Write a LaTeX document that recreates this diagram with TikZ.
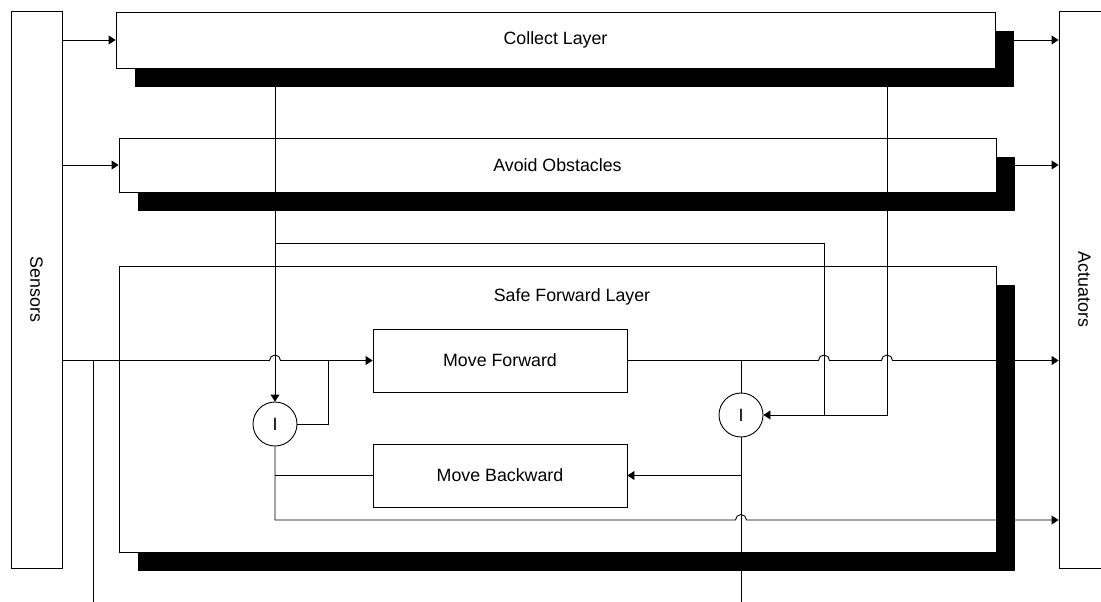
\documentclass[tikz,border=0pt]{standalone}
\usepackage{fontspec}
\setmainfont{Liberation Sans}
\usetikzlibrary{arrows.meta,shadows,calc}
\begin{document}
\begin{tikzpicture}[x=1pt,y=-1pt,
  lw/.style={line width=0.9pt},
  every node/.style={font=\fontsize{17.8}{21}\selectfont},
  blk/.style={draw, fill=white, lw, inner sep=0pt, rectangle},
  layer/.style={blk, general shadow={fill=black, shadow xshift=19pt, shadow yshift=-19pt}},
  gate/.style={draw, fill=white, lw, circle, minimum size=44pt, inner sep=0pt},
  wire/.style={lw, draw=black},
  arr/.style={wire, -{Triangle[length=7pt,width=9pt]}},
]
\useasboundingbox (0,0) rectangle (1101,602);
% side boxes
\node[blk, minimum width=51pt, minimum height=557pt] (sensors) at (36.5,289.5) {\rotatebox{-90}{Sensors}};
\node[blk, minimum width=51pt, minimum height=557pt] (actuators) at (1084.5,289.5) {\rotatebox{-90}{Actuators}};
% layers
\node[layer, minimum width=879pt, minimum height=56pt] (collect) at (555.5,40) {Collect Layer};
\node[layer, minimum width=877pt, minimum height=54pt] (avoid) at (557.5,165) {Avoid Obstacles};
\node[layer, minimum width=877pt, minimum height=286pt] (safe) at (557.5,409) {};
\node (safelabel) at (572,297) {Safe Forward Layer};
% inner blocks
\node[blk, minimum width=254pt, minimum height=63pt] (mf) at (500,360.5) {Move Forward};
\node[blk, minimum width=254pt, minimum height=63pt] (mb) at (500,475.5) {Move Backward};
\node[gate] (i1) at (275,424) {I};
\node[gate] (i2) at (741,415) {I};
% helper coordinates
\coordinate (k1) at (275,243);
\coordinate (k2) at (824,243);
\coordinate (k3) at (824,415);
\coordinate (k4) at (887,415);
\coordinate (r1) at (275,520);
\coordinate (b1) at (93,602);
\coordinate (b2) at (741,602);
% connectors
\draw[arr] (sensors.east |- collect.west) -- (collect.west);
\draw[arr] (sensors.east |- avoid.west) -- (avoid.west);
\draw[arr] (collect.east) -- (collect.east -| actuators.west);
\draw[arr] (avoid.east) -- (avoid.east -| actuators.west);
\draw[arr] (sensors.east |- mf.west) -- ($(i1.north |- mf.west)+(-5.5,0)$) arc[start angle=180,end angle=0,radius=5.5pt] -- (mf.west);
\draw[wire] (b1 |- mf.west) -- (b1);
\draw[arr] (i1.north |- collect.south) -- (i1.north);
\draw[wire] (k1) -- (k2) -- (k3);
\draw[arr] (k4 |- collect.south) -- (k4) -- (i2.east);
\draw[wire] (i1.east) -| ($(mf.west)+(-44,0)$);
\draw[arr] (i1.south) -- (r1) -- ($(r1 -| i2.south)+(-5.5,0)$) arc[start angle=180,end angle=0,radius=5.5pt] -- (r1 -| actuators.west);
\draw[wire] (i1.south |- mb.west) -- (mb.west);
\draw[arr] (mf.east) -- ($(k2 |- mf.east)+(-5.5,0)$) arc[start angle=180,end angle=0,radius=5.5pt] -- ($(k4 |- mf.east)+(-5.5,0)$) arc[start angle=180,end angle=0,radius=5.5pt] -- (mf.east -| actuators.west);
\draw[wire] (i2.north |- mf.east) -- (i2.north);
\draw[wire] (i2.south) -- (b2);
\draw[arr] (i2.south |- mb.east) -- (mb.east);
\end{tikzpicture}
\end{document}
